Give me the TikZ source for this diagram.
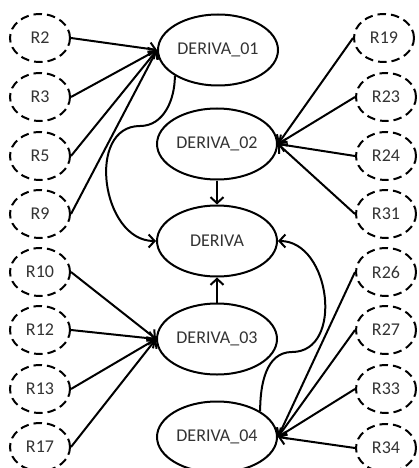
\documentclass[tikz,border=0pt]{standalone}
\usepackage{fontspec}
\setmainfont{Carlito}
\usetikzlibrary{shapes.geometric,arrows.meta}
\begin{document}
\begin{tikzpicture}[x=1pt, y=-1pt, line width=2pt, >={Straight Barb[length=6pt,width=13pt]},
    main node/.style={ellipse,draw,minimum width=120pt,minimum height=71pt,inner sep=0pt,text=black!80,font=\fontsize{18}{22}\selectfont},
    rep node/.style={ellipse,draw,dash pattern=on 8.5pt off 5pt,minimum width=60pt,minimum height=48pt,inner sep=0pt,text=black!80,font=\fontsize{18}{22}\selectfont}]

            \useasboundingbox (0,0) rectangle (419,468);

            \node[main node] at (218, 50) (d1) {DERIVA\_01};
            \node[main node] at (217, 144) (d2) {DERIVA\_02};
            \node[main node] at (217, 241) (d) {DERIVA};
            \node[main node] at (217, 339) (d3) {DERIVA\_03};
            \node[main node] at (217, 437) (d4) {DERIVA\_04};

            \node[rep node] at (40, 38) (r2) {R2};
            \node[rep node] at (40, 97) (r3) {R3};
            \node[rep node] at (40, 156) (r5) {R5};
            \node[rep node] at (40, 214) (r9) {R9};
            \node[rep node] at (40, 272) (r10) {R10};
            \node[rep node] at (40, 330) (r12) {R12};
            \node[rep node] at (40, 389) (r13) {R13};
            \node[rep node] at (40, 447) (r17) {R17};

            \node[rep node] at (384, 38) (r19) {R19};
            \node[rep node] at (386, 97) (r23) {R23};
            \node[rep node] at (386, 156) (r24) {R24};
            \node[rep node] at (386, 214) (r31) {R31};
            \node[rep node] at (386, 272) (r26) {R26};
            \node[rep node] at (386, 330) (r27) {R27};
            \node[rep node] at (386, 389) (r33) {R33};
            \node[rep node] at (386, 448) (r34) {R34};

            \coordinate (m1) at (140, 126);
            \coordinate (m4) at (292, 352);

            \path[->] (r2.east) edge (d1.west);
            \path[->] (r3.east) edge (d1.west);
            \path[->] (r5.east) edge (d1.west);
            \path[->] (r9.east) edge (d1.west);
            \path[->] (r10.east) edge (d3.west);
            \path[->] (r12.east) edge (d3.west);
            \path[->] (r13.east) edge (d3.west);
            \path[->] (r17.east) edge (d3.west);
            \path[->] (r19.west) edge (d2.east);
            \path[->] (r23.west) edge (d2.east);
            \path[->] (r24.west) edge (d2.east);
            \path[->] (r31.west) edge (d2.east);
            \path[->] (r26.west) edge (d4.east);
            \path[->] (r27.west) edge (d4.east);
            \path[->] (r33.west) edge (d4.east);
            \path[->] (r34.west) edge (d4.east);
            \path[->] (d2) edge (d);
            \path[->] (d3) edge (d);

            \draw[->] (d1.south west) to[out=-90, in=0] (m1) to[out=180, in=180, looseness=1.2] (d.west);
            \draw[->] (d4.north east) to[out=90, in=180] (m4) to[out=0, in=0, looseness=1.2] (d.east);
        \end{tikzpicture}
\end{document}
